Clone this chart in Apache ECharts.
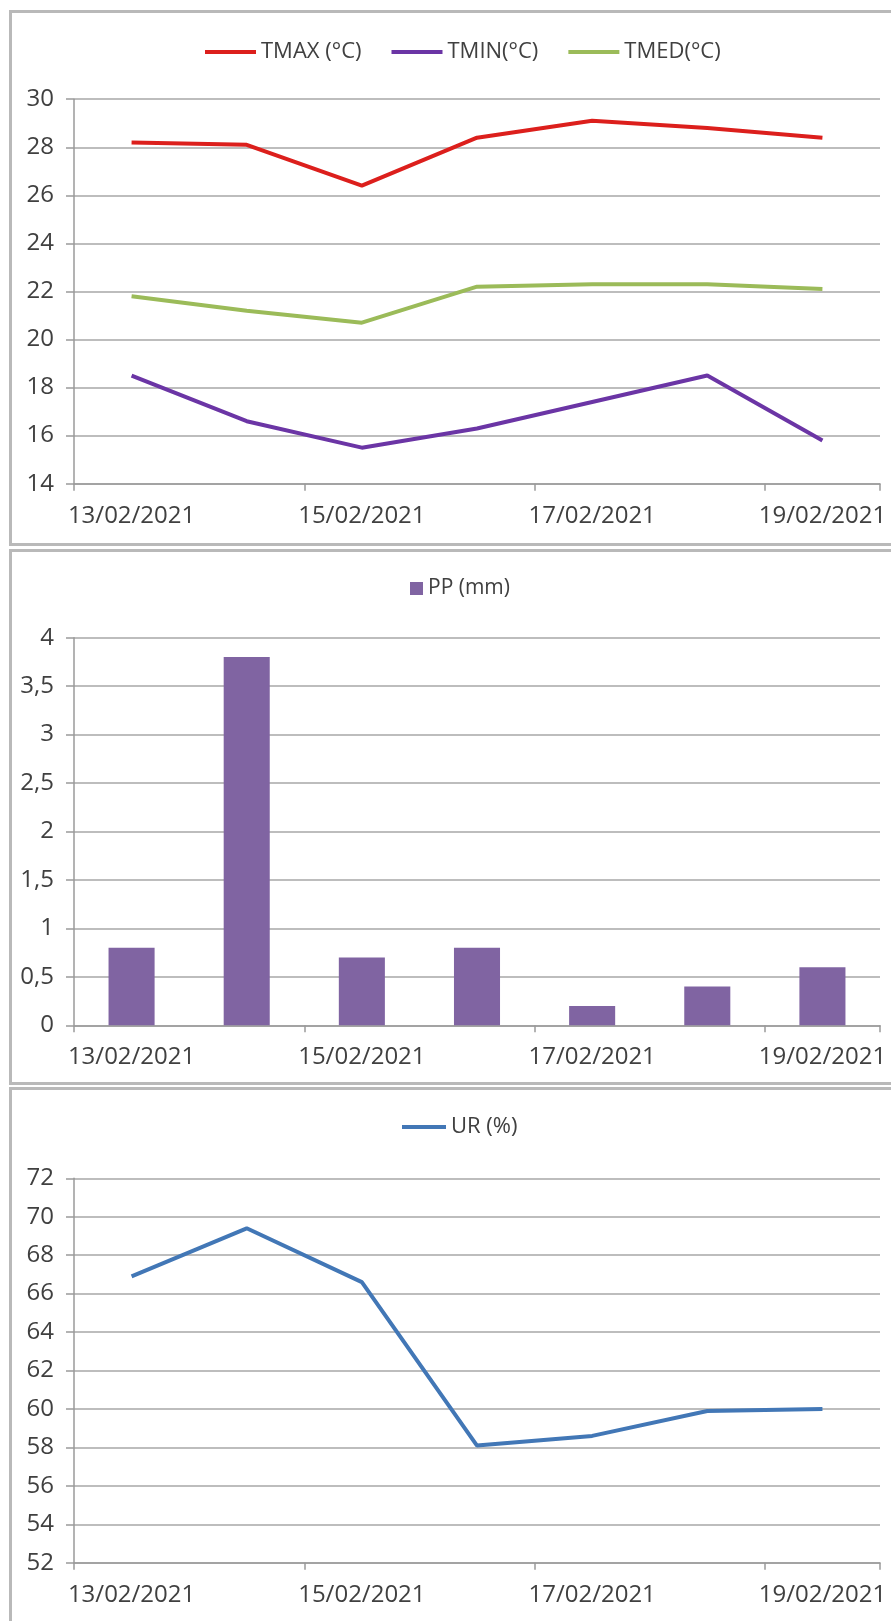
<!DOCTYPE html>
<html>
<head>
<meta charset="utf-8">
<script src="https://cdn.jsdelivr.net/npm/echarts@6/dist/echarts.min.js"></script>
<style>
html,body{margin:0;padding:0;background:#fff;}
#c{width:891px;height:1621px;}
</style>
</head>
<body>
<div id="c"></div>
<script>
const categories = ['13/02/2021','14/02/2021','15/02/2021','16/02/2021','17/02/2021','18/02/2021','19/02/2021'];
const tmax = [28.2, 28.1, 26.4, 28.4, 29.1, 28.8, 28.4];
const tmin = [18.5, 16.6, 15.5, 16.3, 17.4, 18.5, 15.8];
const tmed = [21.8, 21.2, 20.7, 22.2, 22.3, 22.3, 22.1];
const pp = [0.8, 3.8, 0.7, 0.8, 0.2, 0.4, 0.6];
const ur = [66.9, 69.4, 66.6, 58.1, 58.6, 59.9, 60.0];

const FONT = '"Open Sans", sans-serif';
const TXT = '#404040';
const GRID = '#bdbdbd';
const AXIS = '#9a9a9a';

function xAxis(gi){
  return {
    type:'category', gridIndex:gi, data:categories, boundaryGap:true,
    axisLine:{show:true, lineStyle:{color:AXIS, width:1.5}},
    axisTick:{show:true, interval:1, length:7, lineStyle:{color:AXIS, width:1.5}},
    axisLabel:{interval:1, margin:20, color:TXT, fontSize:24, fontFamily:FONT}
  };
}
function yAxis(gi, min, max, interval, fmt){
  return {
    type:'value', gridIndex:gi, min:min, max:max, interval:interval,
    axisLine:{show:true, lineStyle:{color:AXIS, width:1.5}},
    axisTick:{show:true, length:8, lineStyle:{color:AXIS, width:1.5}},
    splitLine:{show:true, lineStyle:{color:GRID, width:2}},
    axisLabel:{margin:20, color:TXT, fontSize:24, fontFamily:FONT, formatter:fmt}
  };
}
const comma = v => String(v).replace('.', ',');

const option = {
  animation:false,
  backgroundColor:'#fff',
  graphic:[
    {type:'rect', shape:{x:10.5, y:11.5, width:900, height:533}, style:{fill:'none', stroke:'#b9b9b9', lineWidth:3}},
    {type:'rect', shape:{x:10.5, y:550.5, width:900, height:533}, style:{fill:'none', stroke:'#b9b9b9', lineWidth:3}},
    {type:'rect', shape:{x:10.5, y:1088.5, width:900, height:560}, style:{fill:'none', stroke:'#b9b9b9', lineWidth:3}}
  ],
  grid:[
    {left:74, right:11, top:99.2, height:384.5},
    {left:74, right:11, top:637.7, height:387.6},
    {left:74, right:11, top:1178.3, height:384.5}
  ],
  legend:[
    {left:200, top:36, itemGap:30, itemWidth:51, itemHeight:4, icon:'rect',
     textStyle:{color:TXT, fontSize:22, fontFamily:FONT},
     data:['TMAX (°C)','TMIN(°C)','TMED(°C)']},
    {left:405, top:573, itemWidth:13, itemHeight:13, icon:'rect',
     textStyle:{color:TXT, fontSize:21, fontFamily:FONT},
     data:['PP (mm)']},
    {left:397, top:1111, itemWidth:44, itemHeight:4, icon:'rect',
     textStyle:{color:TXT, fontSize:22, fontFamily:FONT},
     data:['UR (%)']}
  ],
  xAxis:[xAxis(0), xAxis(1), xAxis(2)],
  yAxis:[
    yAxis(0, 14, 30, 2),
    yAxis(1, 0, 4, 0.5, comma),
    yAxis(2, 52, 72, 2)
  ],
  series:[
    {name:'TMAX (°C)', type:'line', xAxisIndex:0, yAxisIndex:0, data:tmax, symbol:'none', color:'#dc1f1c', lineStyle:{width:4, color:'#dc1f1c'}},
    {name:'TMIN(°C)', type:'line', xAxisIndex:0, yAxisIndex:0, data:tmin, symbol:'none', color:'#6b35a5', lineStyle:{width:4, color:'#6b35a5'}},
    {name:'TMED(°C)', type:'line', xAxisIndex:0, yAxisIndex:0, data:tmed, symbol:'none', color:'#9bbb59', lineStyle:{width:4, color:'#9bbb59'}},
    {name:'PP (mm)', type:'bar', xAxisIndex:1, yAxisIndex:1, data:pp, barWidth:'40%', color:'#8064a2', itemStyle:{color:'#8064a2'}},
    {name:'UR (%)', type:'line', xAxisIndex:2, yAxisIndex:2, data:ur, symbol:'none', color:'#4277b6', lineStyle:{width:4, color:'#4277b6'}}
  ]
};
const chart = echarts.init(document.getElementById('c'), null, {renderer:'canvas'});
chart.setOption(option);
</script>
</body>
</html>
